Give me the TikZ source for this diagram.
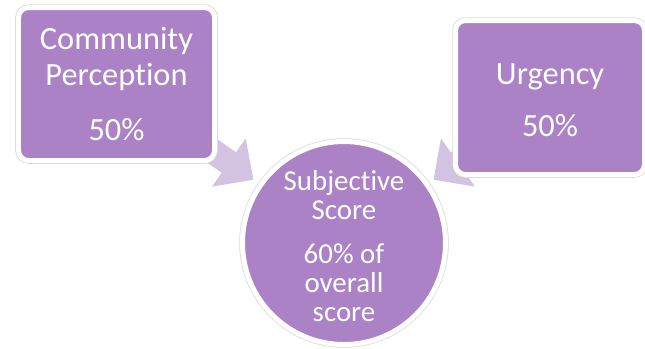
\documentclass[tikz,border=0pt]{standalone}
\usepackage{fontspec}
\setmainfont{Carlito}[Ligatures=NoCommon]
\usepackage{tikz}
\usetikzlibrary{arrows.meta}
\usetikzlibrary{backgrounds}
\definecolor{boxpurple}{RGB}{172,130,198}
\definecolor{arrowlilac}{RGB}{211,194,226}

\begin{document}
\begin{tikzpicture}[x=1bp, y=-1bp,
				internal/.style={fill=boxpurple, draw=white, line width=5bp, outer sep=0pt, inner sep=0pt, text=white,
					preaction={draw=black!15, line width=6.5bp}},
				every text node part/.style={align=center},
				fat/.style={draw=arrowlilac, line width=25bp, -{Triangle[width=57bp, length=30bp]}}]
				\useasboundingbox (0,0) rectangle (645,348);
				
				\node[internal, rounded corners=10bp, minimum width=196bp, minimum height=153bp, font=\fontsize{32.5}{36}\selectfont](node1) at (116.5, 84) {Community\\Perception\\[19bp]50\%};
				\node[internal, rounded corners=10bp, minimum width=189bp, minimum height=154bp, font=\fontsize{32.5}{36}\selectfont](node2) at (550, 97.5) {\rule{0pt}{27bp}Urgency\\[16bp]50\%};
				
				\node[internal, circle, minimum size=203bp, font=\fontsize{29}{29}\selectfont](node3) at (344, 243) {\rule{0pt}{26bp}Subjective\\Score\\[16bp]60\% of\\overall\\score};
				
				\begin{scope}[on background layer]
				\draw [fat, shorten >=9bp] (node1.center) -- (node3);
				\draw [fat, shorten >=8bp] (node2.center) -- (node3);
				\end{scope}
				
			\end{tikzpicture}
\end{document}
